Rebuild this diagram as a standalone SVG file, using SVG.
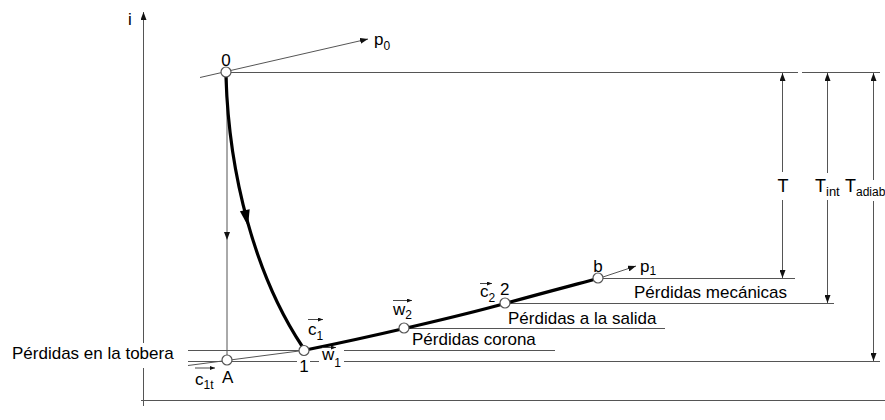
<svg xmlns="http://www.w3.org/2000/svg" width="885" height="420" viewBox="0 0 885 420">
<style>
text{font-family:"Liberation Sans",Arial,sans-serif;font-size:17px;fill:#000}
.sub{font-size:12px}
.tl{font-size:18px}
.ts{font-size:13px}
.ts2{font-size:12px}
.thin{fill:none;stroke:#555;stroke-width:1}
.thick{fill:none;stroke:#000;stroke-width:3.2;stroke-linecap:round}
.pt{fill:#fff;stroke:#555;stroke-width:1.2}
.vec{fill:none;stroke:#333;stroke-width:0.9}
</style>
<defs>
<marker id="ah" markerUnits="userSpaceOnUse" markerWidth="9" markerHeight="6" refX="8" refY="3" orient="auto-start-reverse">
<path d="M0,0 L8,3 L0,6 z" fill="#111"/>
</marker>
<marker id="av" markerUnits="userSpaceOnUse" markerWidth="6" markerHeight="5" refX="5" refY="2" orient="auto">
<path d="M0,0 L5,2 L0,4 z" fill="#111"/>
</marker>
</defs>

<g id="axes">
<path class="thin" d="M143.5,343 V12" marker-end="url(#ah)"/>
<path class="thin" d="M143.5,368 V406"/>
<path class="thin" d="M141,400.5 H885"/>
<text x="130" y="25" text-anchor="middle">i</text>
</g>

<g id="connectors">
<!-- level lines -->
<path class="thin" d="M231,72.5 H798 M802,72.5 H880"/>
<path class="thin" d="M603,278.5 H795"/>
<path class="thin" d="M510,303.5 H834"/>
<path class="thin" d="M409,328.5 H665"/>
<path class="thin" d="M188,350.5 H299 M344,350.5 H555"/>
<path class="thin" d="M188,361.5 H297 M310,361.5 H319 M344,361.5 H880"/>
<!-- isobars -->
<path class="thin" d="M200,77.5 L368,39" marker-end="url(#ah)"/>
<path class="thin" d="M188,365.5 L299,351"/>
<path class="thin" d="M603,277 L636,266" marker-end="url(#ah)"/>
<!-- isentropic 0 -> A -->
<path class="thin" d="M227,77 V240" marker-end="url(#ah)"/>
<path class="thin" d="M227,240 V355"/>
<!-- real expansion 0 -> 1 -->
<path class="thick" d="M226,77 C229,175 255,275 302,346"/>
<polygon points="248,226 239.9,211.3 249.7,209.3" fill="#000"/>
<!-- rotor expansion 1 -> b -->
<path class="thick" d="M308,349.5 C370,337 460,316 505,303.5 S570,286 594,279.5"/>
<!-- T dimension arrows -->
<path class="thin" d="M782.5,172 V73" marker-end="url(#ah)"/>
<path class="thin" d="M782.5,200 V278" marker-end="url(#ah)"/>
<path class="thin" d="M827.5,173 V73" marker-end="url(#ah)"/>
<path class="thin" d="M827.5,200 V303" marker-end="url(#ah)"/>
<path class="thin" d="M873.5,180 V73" marker-end="url(#ah)"/>
<path class="thin" d="M873.5,201 V361" marker-end="url(#ah)"/>
</g>

<g id="node-0">
<circle class="pt" cx="226" cy="72" r="5"/>
<text x="226" y="66" text-anchor="middle">0</text>
<text x="374" y="45">p<tspan class="sub" dy="5">0</tspan></text>
</g>

<g id="node-A">
<circle class="pt" cx="227" cy="360" r="5"/>
<text x="222" y="383">A</text>
<path class="vec" d="M195,368 H215" marker-end="url(#av)"/>
<text x="195" y="385">c<tspan class="sub" dy="4">1t</tspan></text>
</g>

<g id="node-1">
<circle class="pt" cx="304" cy="350.5" r="5"/>
<text x="304" y="372" text-anchor="middle">1</text>
<path class="vec" d="M308,319.5 H323" marker-end="url(#av)"/>
<text x="308" y="335">c<tspan class="sub" dy="5">1</tspan></text>
<path class="vec" d="M322,347.5 H336" marker-end="url(#av)"/>
<text x="322" y="360">w<tspan class="sub" dy="7">1</tspan></text>
</g>

<g id="node-w2">
<circle class="pt" cx="404" cy="328" r="5"/>
<path class="vec" d="M393,300.5 H412" marker-end="url(#av)"/>
<text x="393" y="315">w<tspan class="sub" dy="4">2</tspan></text>
</g>

<g id="node-2">
<circle class="pt" cx="505" cy="303" r="5"/>
<text x="500" y="295">2</text>
<path class="vec" d="M480,283.5 H492" marker-end="url(#av)"/>
<text x="480" y="297">c<tspan class="sub" dy="5">2</tspan></text>
</g>

<g id="node-b">
<circle class="pt" cx="598" cy="278" r="5"/>
<text x="598" y="272" text-anchor="middle">b</text>
<text x="640" y="272">p<tspan class="sub" dy="3">1</tspan></text>
</g>

<g id="labels">
<text x="12" y="359">Pérdidas en la tobera</text>
<text x="412" y="345">Pérdidas corona</text>
<text x="508" y="324">Pérdidas a la salida</text>
<text x="634" y="298">Pérdidas mecánicas</text>
<text class="tl" x="783" y="192" text-anchor="middle">T</text>
<text class="tl" x="815" y="192">T<tspan class="ts" dy="4">int</tspan></text>
<text class="tl" x="845" y="192">T<tspan class="ts2" dy="4">adiab</tspan></text>
</g>
</svg>
